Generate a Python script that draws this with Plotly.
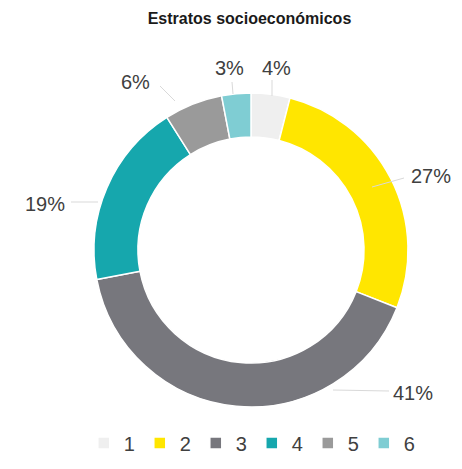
import plotly.graph_objects as go

# Socio-economic strata share (percent)
strata = ["1", "2", "3", "4", "5", "6"]
shares = [4, 27, 41, 19, 6, 3]
colors = ["#efefef", "#ffe600", "#77777d", "#16a7ad", "#9a9a9a", "#7fcdd3"]

W, H = 462, 469


def px(x, y):
    """Convert pixel position (from top-left) to paper coordinates."""
    return x / W, 1 - y / H


# Label anchor (pixel) and leader line start/end per stratum
label_pos = {
    "1": (276, 68),
    "2": (431, 176),
    "3": (413, 393),
    "4": (45, 204),
    "5": (135, 82),
    "6": (229, 68),
}
leaders = {
    "1": ((272, 96), (272, 80)),
    "2": ((372, 187), (404, 178)),
    "3": ((333, 390), (389, 391)),
    "4": ((71, 202), (98, 202)),
    "5": ((160, 86), (175, 101)),
    "6": ((232, 82), (233, 94)),
}

cx, cy, r = 251, 250, 157

fig = go.Figure(
    go.Pie(
        labels=strata,
        values=shares,
        marker=dict(colors=colors, line=dict(color="white", width=1.5)),
        hole=0.72,
        sort=False,
        direction="clockwise",
        rotation=0,
        textinfo="none",
        hoverinfo="label+percent",
        domain=dict(x=[(cx - r) / W, (cx + r) / W],
                    y=[1 - (cy + r) / H, 1 - (cy - r) / H]),
    )
)

annotations = []
shapes = []
total = sum(shares)
for lab, val in zip(strata, shares):
    x, y = px(*label_pos[lab])
    annotations.append(dict(
        x=x, y=y, xref="paper", yref="paper", showarrow=False,
        text=f"{round(100 * val / total)}%",
        font=dict(family="Liberation Sans, Arial, sans-serif", size=20, color="#404040"),
        xanchor="center", yanchor="middle",
    ))
    (x0, y0), (x1, y1) = leaders[lab]
    a0, b0 = px(x0, y0)
    a1, b1 = px(x1, y1)
    shapes.append(dict(type="line", xref="paper", yref="paper",
                       x0=a0, y0=b0, x1=a1, y1=b1,
                       line=dict(color="#d9d9d9", width=1)))

fig.update_layout(
    width=W,
    height=H,
    margin=dict(l=0, r=0, t=0, b=0),
    paper_bgcolor="white",
    plot_bgcolor="white",
    title=dict(
        text="<b>Estratos socioeconómicos</b>",
        x=0.54, xanchor="center", y=1 - 18 / H, yanchor="middle",
        font=dict(family="Liberation Sans, Arial, sans-serif", size=16, color="#1a1a1a"),
    ),
    annotations=annotations,
    shapes=shapes,
    showlegend=True,
    legend=dict(
        orientation="h",
        x=0.545, xanchor="center",
        y=1 - 443 / H, yanchor="middle",
        font=dict(family="Liberation Sans, Arial, sans-serif", size=20, color="#404040"),
        itemwidth=30,
        entrywidth=11,
        traceorder="normal",
    ),
)

fig.write_html("out.html")
